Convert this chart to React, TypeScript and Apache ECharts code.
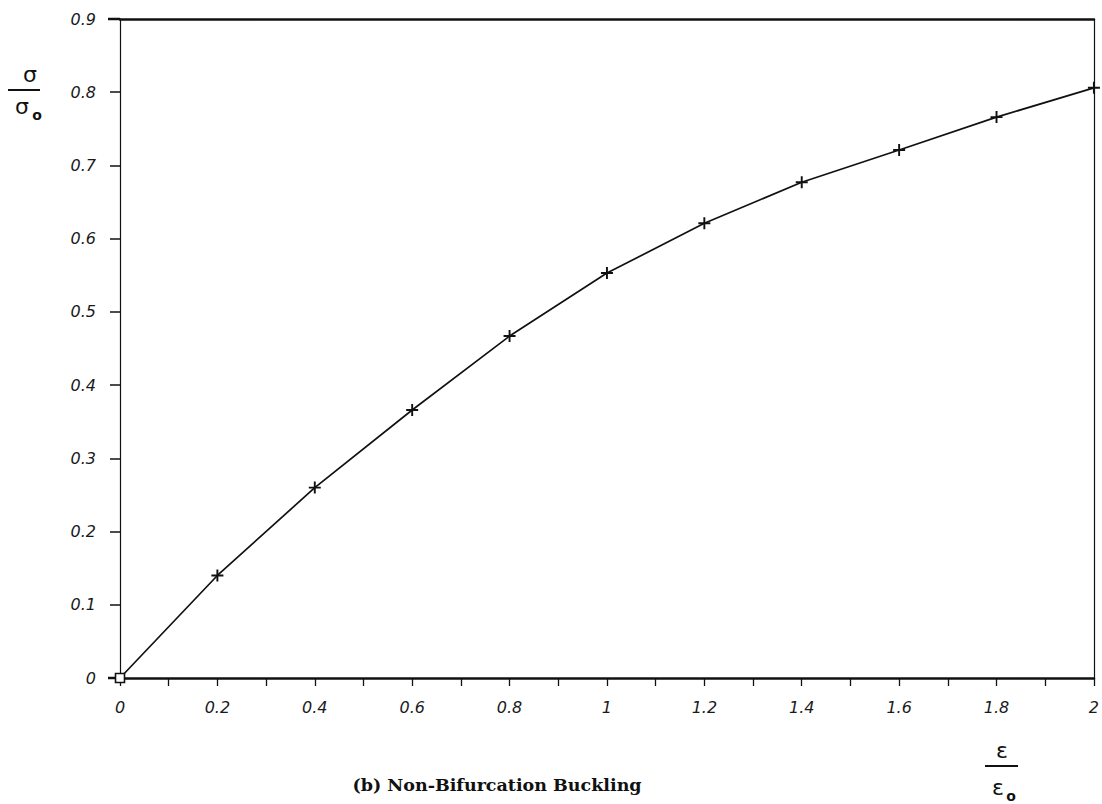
import React, { useEffect, useRef } from "react";
import * as echarts from "echarts";

const strainRatio = [0, 0.2, 0.4, 0.6, 0.8, 1.0, 1.2, 1.4, 1.6, 1.8, 2.0];
const stressRatio = [0, 0.14, 0.26, 0.366, 0.467, 0.553, 0.621, 0.677, 0.721, 0.766, 0.806];
const caption = "(b) Non-Bifurcation Buckling";

const PLUS = "path://M4.2,0H5.8V4.2H10V5.8H5.8V10H4.2V5.8H0V4.2H4.2Z";

export default function App() {
  const ref = useRef<HTMLDivElement>(null);
  useEffect(() => {
    if (!ref.current) return;
    const chart = echarts.init(ref.current, null, { renderer: "svg" });
    const data = strainRatio.map((x, i) => {
      if (i === 0) {
        return {
          value: [x, stressRatio[i]],
          symbol: "rect",
          symbolSize: 9,
          itemStyle: { color: "#fff", borderColor: "#111", borderWidth: 1.6 },
        };
      }
      return { value: [x, stressRatio[i]] };
    });
    const tickFont = {
      fontFamily: "DejaVu Sans",
      fontStyle: "italic" as const,
      fontSize: 16,
      color: "#1a1a1a",
    };
    chart.setOption({
      animation: false,
      backgroundColor: "#fff",
      grid: { left: 120, right: 6, top: 19, bottom: 126, containLabel: false },
      xAxis: [
        {
          type: "value",
          min: 0,
          max: 2,
          interval: 0.2,
          axisLine: { show: true, onZero: false, lineStyle: { color: "#111", width: 2.5 } },
          axisTick: { show: true, length: 8, lineStyle: { color: "#111", width: 1.3 } },
          minorTick: { show: true, splitNumber: 2, length: 8, lineStyle: { color: "#111", width: 1.3 } },
          splitLine: { show: false },
          axisLabel: {
            ...tickFont,
            margin: 21,
            formatter: (v: number) => (v === 0 ? "0" : String(Math.round(v * 10) / 10)),
          },
        },
        {
          type: "value",
          position: "top",
          min: 0,
          max: 2,
          axisLine: { show: true, onZero: false, lineStyle: { color: "#111", width: 2.5 } },
          axisTick: { show: false },
          axisLabel: { show: false },
          splitLine: { show: false },
        },
      ],
      yAxis: [
        {
          type: "value",
          min: 0,
          max: 0.9,
          interval: 0.1,
          axisLine: { show: true, onZero: false, lineStyle: { color: "#111", width: 1.2 } },
          axisTick: { show: true, length: 10, lineStyle: { color: "#111", width: 1.5 } },
          splitLine: { show: false },
          axisLabel: {
            ...tickFont,
            margin: 24,
            formatter: (v: number) => (v === 0 ? "0" : (Math.round(v * 10) / 10).toFixed(1)),
          },
        },
        {
          type: "value",
          position: "right",
          min: 0,
          max: 0.9,
          axisLine: { show: true, onZero: false, lineStyle: { color: "#111", width: 1.2 } },
          axisTick: { show: false },
          axisLabel: { show: false },
          splitLine: { show: false },
        },
      ],
      series: [
        {
          type: "line",
          data,
          clip: false,
          symbol: PLUS,
          symbolSize: 12,
          showAllSymbol: true,
          lineStyle: { color: "#111", width: 1.7 },
          itemStyle: { color: "#111" },
        },
      ],
      graphic: [
        { type: "line", shape: { x1: 108, y1: 19, x2: 120, y2: 19 }, style: { stroke: "#111", lineWidth: 2.5 } },
        { type: "line", shape: { x1: 108, y1: 678, x2: 120, y2: 678 }, style: { stroke: "#111", lineWidth: 2.5 } },
        { type: "text", x: 30, y: 74, style: { text: "σ", font: "22px DejaVu Sans", fill: "#111", align: "center", verticalAlign: "middle" } },
        { type: "line", shape: { x1: 8, y1: 90, x2: 40, y2: 90 }, style: { stroke: "#111", lineWidth: 2 } },
        { type: "text", x: 22, y: 106, style: { text: "σ", font: "22px DejaVu Sans", fill: "#111", align: "center", verticalAlign: "middle" } },
        { type: "text", x: 37, y: 115, style: { text: "o", font: "bold 14px DejaVu Sans", fill: "#111", align: "center", verticalAlign: "middle" } },
        { type: "text", x: 1002, y: 750, style: { text: "ε", font: "22px DejaVu Sans", fill: "#111", align: "center", verticalAlign: "middle" } },
        { type: "line", shape: { x1: 985, y1: 766, x2: 1018, y2: 766 }, style: { stroke: "#111", lineWidth: 2 } },
        { type: "text", x: 998, y: 787, style: { text: "ε", font: "22px DejaVu Sans", fill: "#111", align: "center", verticalAlign: "middle" } },
        { type: "text", x: 1011, y: 796, style: { text: "o", font: "bold 14px DejaVu Sans", fill: "#111", align: "center", verticalAlign: "middle" } },
        { type: "text", x: 497, y: 785, style: { text: caption, font: "bold 17.5px DejaVu Serif", fill: "#111", align: "center", verticalAlign: "middle" } },
      ],
    });
    return () => chart.dispose();
  }, []);
  return <div ref={ref} style={{ position: "fixed", left: 0, top: 0, width: 1102, height: 804 }} />;
}
